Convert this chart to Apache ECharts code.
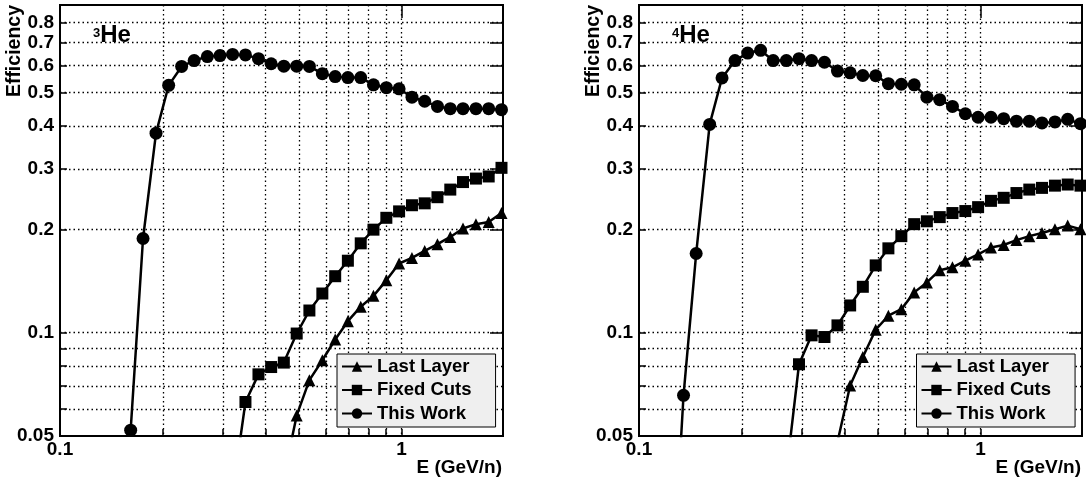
<!DOCTYPE html>
<html>
<head>
<meta charset="utf-8">
<script src="https://cdn.jsdelivr.net/npm/echarts@6/dist/echarts.min.js"></script>
<style>
html, body { margin: 0; padding: 0; background: #fff; }
#chart { width: 1086px; height: 483px; }
</style>
</head>
<body>
<div id="chart"></div>
<script>
// Kinetic energy bins (GeV/n), shared by both panels
const energy = [0.124, 0.135, 0.147, 0.161, 0.175, 0.191, 0.208, 0.227, 0.247, 0.270,
                0.294, 0.320, 0.349, 0.381, 0.415, 0.452, 0.493, 0.537, 0.586, 0.639,
                0.696, 0.759, 0.827, 0.902, 0.983, 1.072, 1.168, 1.273, 1.388, 1.512,
                1.650, 1.798, 1.960];

// 3He efficiencies, aligned with energy[] (null = no entry)
const he3LastLayer = [null, null, null, null, null, null, null, null, null, null,
                      null, null, null, null, null, 0.038, 0.0574, 0.0727, 0.0831, 0.0955,
                      0.108, 0.119, 0.128, 0.142, 0.159, 0.165, 0.173, 0.181, 0.190, 0.201,
                      0.207, 0.210, 0.223];
const he3FixedCuts = [null, null, null, null, null, null, null, null, null, null,
                      null, 0.034, 0.0628, 0.0756, 0.0794, 0.0818, 0.0994, 0.116, 0.130, 0.146,
                      0.162, 0.182, 0.1995, 0.216, 0.2255, 0.235, 0.238, 0.248, 0.261, 0.2745,
                      0.281, 0.285, 0.302];
const he3ThisWork = [null, null, null, 0.052, 0.188, 0.381, 0.525, 0.596, 0.620, 0.637,
                     0.641, 0.646, 0.644, 0.628, 0.607, 0.597, 0.597, 0.596, 0.568, 0.557,
                     0.553, 0.553, 0.527, 0.517, 0.513, 0.485, 0.472, 0.456, 0.449, 0.449,
                     0.449, 0.449, 0.446];

// 4He efficiencies, aligned with energy[]
const he4LastLayer = [null, null, null, null, null, null, null, null, null, null,
                      null, null, null, 0.048, 0.0702, 0.0849, 0.102, 0.112, 0.117, 0.131,
                      0.140, 0.152, 0.155, 0.162, 0.169, 0.177, 0.180, 0.186, 0.191, 0.195,
                      0.200, 0.205, 0.200];
const he4FixedCuts = [null, null, null, null, null, null, null, null, null, 0.039,
                      0.0809, 0.0982, 0.0971, 0.105, 0.120, 0.136, 0.157, 0.176, 0.191, 0.207,
                      0.211, 0.217, 0.223, 0.226, 0.232, 0.242, 0.247, 0.255, 0.261, 0.264,
                      0.268, 0.270, 0.268];
const he4ThisWork = [0.015, 0.0657, 0.17, 0.404, 0.552, 0.620, 0.652, 0.664, 0.620, 0.620,
                     0.628, 0.620, 0.613, 0.578, 0.571, 0.561, 0.560, 0.531, 0.529, 0.527,
                     0.485, 0.477, 0.456, 0.434, 0.424, 0.424, 0.420, 0.413, 0.413, 0.408,
                     0.411, 0.418, 0.406];

const seriesNames = ['Last Layer', 'Fixed Cuts', 'This Work'];
const seriesSymbols = ['triangle', 'rect', 'circle'];
const seriesSymbolSizes = [12, 12, 13];
const panelMass = ['3', '4'];
const panelValues = [
  [he3LastLayer, he3FixedCuts, he3ThisWork],
  [he4LastLayer, he4FixedCuts, he4ThisWork]
];

// Axis ranges and tick values
const xRange = [0.1, 1.98];
const yRange = [0.05, 0.9];
const xGridValues = [0.2, 0.3, 0.4, 0.5, 0.6, 0.7, 0.8, 0.9, 1];
const xMajorTicks = [1];
const xTickLabels = [0.1, 1];
const yGridValues = [0.06, 0.07, 0.08, 0.09, 0.1, 0.2, 0.3, 0.4, 0.5, 0.6, 0.7, 0.8];
const yMajorTicks = [0.1, 0.2, 0.3, 0.4, 0.5, 0.6, 0.7, 0.8];
const yTickLabels = [0.05, 0.1, 0.2, 0.3, 0.4, 0.5, 0.6, 0.7, 0.8];

const FONT = '"Liberation Sans", Arial, Helvetica, sans-serif';
const BLACK = '#000';

// Panel placement on the page
const panels = [
  { left: 60, top: 5, width: 443, height: 431, legendLeft: 337, legendTop: 354 },
  { left: 639, top: 5, width: 443, height: 431, legendLeft: 916.5, legendTop: 354 }
];

const fmtNum = v => String(parseFloat(Number(v).toPrecision(3)));

function pairs(values) {
  const out = [];
  values.forEach((v, i) => { if (v != null) out.push([energy[i], v]); });
  return out;
}

const grids = [], xAxes = [], yAxes = [], series = [], legends = [], graphics = [];

panels.forEach((p, pi) => {
  grids.push({
    left: p.left, top: p.top, width: p.width, height: p.height,
    show: true, borderColor: BLACK, borderWidth: 2, backgroundColor: 'transparent'
  });

  // main x axis: line, labels, minor ticks and dotted grid
  xAxes.push({
    type: 'log', logBase: 10, gridIndex: pi, min: xRange[0], max: xRange[1],
    axisLine: { show: true, lineStyle: { color: BLACK, width: 2 } },
    axisTick: { show: true, inside: true, length: 7, customValues: xGridValues,
                lineStyle: { color: BLACK, width: 1.5 } },
    axisLabel: { show: true, customValues: xTickLabels, formatter: fmtNum, margin: 4,
                 color: BLACK, fontFamily: FONT, fontWeight: 'bold', fontSize: 19 },
    splitLine: { show: true, lineStyle: { color: BLACK, width: 1.3, type: [1.5, 3] } },
    minorTick: { show: false }, minorSplitLine: { show: false }
  });
  // overlay x axis: long ticks at decades
  xAxes.push({
    type: 'log', logBase: 10, gridIndex: pi, min: xRange[0], max: xRange[1],
    axisLine: { show: false },
    axisTick: { show: true, inside: true, length: 13, customValues: xMajorTicks,
                lineStyle: { color: BLACK, width: 1.5 } },
    axisLabel: { show: false }, splitLine: { show: false }
  });

  yAxes.push({
    type: 'log', logBase: 10, gridIndex: pi, min: yRange[0], max: yRange[1],
    axisLine: { show: true, lineStyle: { color: BLACK, width: 2 } },
    axisTick: { show: true, inside: true, length: 7, customValues: yGridValues,
                lineStyle: { color: BLACK, width: 1.5 } },
    axisLabel: { show: true, customValues: yTickLabels, formatter: fmtNum, margin: 6,
                 color: BLACK, fontFamily: FONT, fontWeight: 'bold', fontSize: 19 },
    splitLine: { show: true, lineStyle: { color: BLACK, width: 1.3, type: [1.5, 3] } },
    minorTick: { show: false }, minorSplitLine: { show: false }
  });
  yAxes.push({
    type: 'log', logBase: 10, gridIndex: pi, min: yRange[0], max: yRange[1],
    axisLine: { show: false },
    axisTick: { show: true, inside: true, length: 13, customValues: yMajorTicks,
                lineStyle: { color: BLACK, width: 1.5 } },
    axisLabel: { show: false }, splitLine: { show: false }
  });

  seriesNames.forEach((name, si) => {
    series.push({
      name: name,
      type: 'line',
      xAxisIndex: pi * 2,
      yAxisIndex: pi * 2,
      data: pairs(panelValues[pi][si]),
      symbol: seriesSymbols[si],
      symbolSize: seriesSymbolSizes[si],
      showSymbol: true,
      clip: true,
      lineStyle: { color: BLACK, width: 2.5 },
      itemStyle: { color: BLACK, borderWidth: 0 },
      emphasis: { disabled: true },
      z: 3 + si
    });
  });

  legends.push({
    orient: 'vertical',
    left: p.legendLeft, top: p.legendTop,
    data: seriesNames,
    selectedMode: false,
    backgroundColor: '#efefef',
    borderColor: BLACK, borderWidth: 1, borderRadius: 0,
    padding: [3, 24, 4, 4],
    itemWidth: 30, itemHeight: 13, itemGap: 4.5,
    textStyle: { color: BLACK, fontFamily: FONT, fontWeight: 'bold', fontSize: 18.5, lineHeight: 18 }
  });

  const right = p.left + p.width;
  // axis titles
  graphics.push({
    type: 'text', x: right - 1, y: 468,
    style: { text: 'E (GeV/n)', fill: BLACK, font: 'bold 19px ' + FONT,
             align: 'right', verticalAlign: 'middle' }
  });
  graphics.push({
    type: 'text', x: p.left - 45, y: 5, rotation: Math.PI / 2,
    style: { text: 'Efficiency', fill: BLACK, font: 'bold 19.5px ' + FONT,
             align: 'right', verticalAlign: 'middle' }
  });
  // isotope label
  graphics.push({
    type: 'text', x: p.left + 33, y: 23,
    style: {
      text: '{s|' + panelMass[pi] + '}{h|He}',
      fill: BLACK, align: 'left', verticalAlign: 'top',
      rich: {
        s: { fontFamily: FONT, fontWeight: 'bold', fontSize: 13, verticalAlign: 'top',
             lineHeight: 13, padding: [4, 0, 0, 0], fill: BLACK },
        h: { fontFamily: FONT, fontWeight: 'bold', fontSize: 24, lineHeight: 25, fill: BLACK }
      }
    }
  });
});

const chart = echarts.init(document.getElementById('chart'), null, { renderer: 'canvas' });
chart.setOption({
  animation: false,
  backgroundColor: '#fff',
  grid: grids,
  xAxis: xAxes,
  yAxis: yAxes,
  legend: legends,
  series: series,
  graphic: graphics,
  tooltip: { show: false }
});
</script>
</body>
</html>
